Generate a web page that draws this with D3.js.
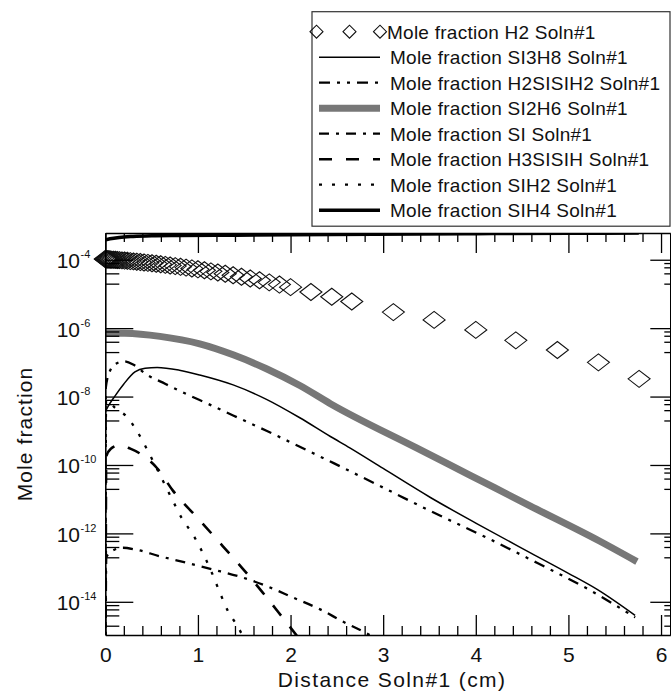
<!DOCTYPE html>
<html><head><meta charset="utf-8">
<script src="https://cdn.jsdelivr.net/npm/d3@7"></script>
<style>
body{margin:0;background:#fff}
svg{display:block}
text{font-family:"Liberation Sans",Arial,Helvetica,sans-serif;fill:#111}
</style>
</head><body>
<svg id="c" width="671" height="692"></svg>
<script>
// ---------------- DATA ----------------
const legendNames = [
  "Mole fraction H2 Soln#1",
  "Mole fraction SI3H8 Soln#1",
  "Mole fraction H2SISIH2 Soln#1",
  "Mole fraction SI2H6 Soln#1",
  "Mole fraction SI Soln#1",
  "Mole fraction H3SISIH Soln#1",
  "Mole fraction SIH2 Soln#1",
  "Mole fraction SIH4 Soln#1"
];
const xTickValues = [0, 1, 2, 3, 4, 5, 6];
const yTickValues = [1e-14, 1e-12, 1e-10, 1e-8, 1e-6, 1e-4];
const yTickExponents = ["-14", "-12", "-10", "-8", "-6", "-4"];
const xTitle = "Distance Soln#1 (cm)";
const yTitle = "Mole fraction";

// H2 (markers on solution mesh)
const h2X = [0, 0.004, 0.01, 0.018, 0.028, 0.04, 0.054, 0.07, 0.088, 0.108, 0.13, 0.154, 0.18, 0.208, 0.238, 0.27, 0.304, 0.34, 0.378, 0.418, 0.46, 0.504, 0.55, 0.598, 0.648, 0.7, 0.755, 0.812, 0.872, 0.935, 1.0, 1.07, 1.14, 1.215, 1.295, 1.38, 1.47, 1.565, 1.665, 1.77, 1.88, 2.0, 2.22, 2.445, 2.661, 3.11, 3.55, 4.0, 4.432, 4.881, 5.324, 5.763];
const h2Y = [1.05e-4, 1.04e-4, 1.04e-4, 1.04e-4, 1.035e-4, 1.03e-4, 1.02e-4, 1.01e-4, 1.005e-4, 9.95e-5, 9.84e-5, 9.72e-5, 9.6e-5, 9.46e-5, 9.31e-5, 9.14e-5, 8.95e-5, 8.77e-5, 8.55e-5, 8.34e-5, 8.11e-5, 7.87e-5, 7.62e-5, 7.36e-5, 7.1e-5, 6.81e-5, 6.52e-5, 6.21e-5, 5.9e-5, 5.57e-5, 5.25e-5, 4.91e-5, 4.57e-5, 4.24e-5, 3.88e-5, 3.53e-5, 3.18e-5, 2.84e-5, 2.51e-5, 2.18e-5, 1.88e-5, 1.58e-5, 1.14e-5, 8.3e-6, 6.0e-6, 2.95e-6, 1.74e-6, 8.9e-7, 4.4e-7, 2.3e-7, 1.0e-7, 3.3e-8];

const si3h8X = [0, 0.03, 0.1, 0.2, 0.32, 0.43, 0.56, 0.8, 1.02, 1.38, 1.74, 2.1, 2.43, 2.64, 3.0, 3.51, 4.0, 4.59, 5.0, 5.31, 5.72];
const si3h8Y = [3.55e-9, 5.13e-9, 1.0e-8, 2.34e-8, 5.25e-8, 6.76e-8, 7.08e-8, 5.89e-8, 4.27e-8, 2.19e-8, 8.3e-9, 2.4e-9, 6.8e-10, 3.16e-10, 7.9e-11, 1.12e-11, 2.0e-12, 2.7e-13, 6.8e-14, 2.3e-14, 4.0e-15];

const h2sisih2X = [0, 0.005, 0.05, 0.12, 0.2, 0.3, 0.447, 0.65, 0.879, 1.1, 1.38, 1.74, 2.1, 2.46, 2.97, 3.51, 4.16, 4.66, 5.23, 5.72];
const h2sisih2Y = [1e-20, 1.78e-8, 5.6e-8, 9.3e-8, 1.07e-7, 8.7e-8, 4.4e-8, 2.34e-8, 1.17e-8, 6.3e-9, 2.8e-9, 1.0e-9, 3.4e-10, 1.15e-10, 2.4e-11, 4.5e-12, 6.6e-13, 1.38e-13, 2.2e-14, 3.5e-15];

const si2h6X = [0, 0.21, 0.59, 1.02, 1.38, 1.74, 2.10, 2.43, 3.36, 3.94, 4.59, 5.34, 5.74];
const si2h6Y = [7.2e-7, 7.1e-7, 5.75e-7, 3.47e-7, 1.66e-7, 6.5e-8, 2.1e-8, 6.2e-9, 3.16e-10, 5.0e-11, 6.3e-12, 5.9e-13, 1.5e-13];

const siX = [0, 0.01, 0.08, 0.19, 0.32, 0.59, 0.88, 1.17, 1.455, 1.74, 2.03, 2.32, 2.57, 2.82, 3.0];
const siY = [1e-20, 2.0e-13, 3.16e-13, 3.8e-13, 3.4e-13, 2.14e-13, 1.38e-13, 8.7e-14, 5.4e-14, 2.9e-14, 1.32e-14, 6.0e-15, 2.6e-15, 1.2e-15, 6.3e-16];

const h3sisihX = [0, 0.01, 0.06, 0.15, 0.27, 0.37, 0.555, 0.73, 1.02, 1.27, 1.49, 1.70, 1.92, 2.1];
const h3sisihY = [1e-20, 1.78e-10, 3.0e-10, 3.8e-10, 3.0e-10, 2.2e-10, 8.3e-11, 1.78e-11, 2.4e-12, 4.2e-13, 8.9e-14, 1.86e-14, 3.3e-15, 7.9e-16];

const sih2X = [0, 0.008, 0.105, 0.23, 0.34, 0.48, 0.61, 0.73, 0.825, 0.95, 1.02, 1.15, 1.24, 1.33, 1.42, 1.54];
const sih2Y = [1e-20, 7.9e-9, 4.7e-9, 2.6e-9, 1.0e-9, 2.0e-10, 4.0e-11, 8.9e-12, 2.8e-12, 8.9e-13, 4.0e-13, 7.1e-14, 1.78e-14, 5.0e-15, 2.1e-15, 5.0e-16];

const sih4X = [0, 0.05, 0.15, 0.3, 0.5, 0.8, 1.2, 2.0, 2.9, 4.0, 5.0, 5.76];
const sih4Y = [3.8e-4, 4.1e-4, 4.5e-4, 4.8e-4, 5.0e-4, 5.1e-4, 5.2e-4, 5.35e-4, 5.6e-4, 5.8e-4, 5.9e-4, 6.0e-4];

// ---------------- STYLES ----------------
const lineStyles = {
  si3h8:    {color:"#000", width:1.5, dash:null},
  h2sisih2: {color:"#000", width:2.3, dash:"11,7,3,7,3,7"},
  si2h6:    {color:"#777", width:7,   dash:null},
  si:       {color:"#000", width:2.3, dash:"10,7,3,7"},
  h3sisih:  {color:"#000", width:2.6, dash:"13,14"},
  sih2:     {color:"#000", width:2.3, dash:"3,10"},
  sih4:     {color:"#000", width:3.5, dash:null}
};

// ---------------- CHART ----------------
const svg = d3.select("#c");
const L = 105.3, R = 670.3, T = 233, B = 635;
const x = d3.scaleLinear().domain([0, 6.1]).range([L, R]);
const y = d3.scaleLog().domain([1.07e-15, 6.05e-4]).range([B, T]);
const FONT = "Liberation Sans, Arial, Helvetica, sans-serif";

svg.append("defs").append("clipPath").attr("id", "clip")
  .append("rect").attr("x", L).attr("y", T).attr("width", R - L).attr("height", B - T);

const zip = (xs, ys) => xs.map((v, i) => [v, ys[i]]);
const line = d3.line().x(d => x(d[0])).y(d => y(d[1])).curve(d3.curveMonotoneX);

const plotted = [
  ["si2h6", si2h6X, si2h6Y],
  ["sih4", sih4X, sih4Y],
  ["si3h8", si3h8X, si3h8Y],
  ["h2sisih2", h2sisih2X, h2sisih2Y],
  ["si", siX, siY],
  ["h3sisih", h3sisihX, h3sisihY],
  ["sih2", sih2X, sih2Y]
];
const gLines = svg.append("g").attr("clip-path", "url(#clip)");
plotted.forEach(([key, xs, ys]) => {
  const st = lineStyles[key];
  gLines.append("path").datum(zip(xs, ys))
    .attr("d", line).attr("fill", "none")
    .attr("stroke", st.color).attr("stroke-width", st.width)
    .attr("stroke-dasharray", st.dash).attr("stroke-linejoin", "round");
});

// diamonds for H2
function diamond(cx, cy, hw, hh) {
  return `M${cx - hw},${cy}L${cx},${cy - hh}L${cx + hw},${cy}L${cx},${cy + hh}Z`;
}
svg.append("g").selectAll("path").data(zip(h2X, h2Y)).join("path")
  .attr("d", d => diamond(x(d[0]), y(d[1]), 11, 8.5))
  .attr("fill", "none").attr("stroke", "#111").attr("stroke-width", 1.1);

// axes
const xMinor = d3.range(1, 31).filter(i => i % 5 !== 0).map(i => i / 5);
const yMinor = [];
[-15, -13, -11, -9, -7, -5].forEach(e => [2, 4, 6, 8].forEach(m => yMinor.push(m * Math.pow(10, e))));

function styleAxis(g, keepDomain) {
  if (!keepDomain) g.select("path.domain").remove();
  else g.select("path.domain").attr("stroke", "#000").attr("stroke-width", 1.6);
  g.selectAll(".tick line").attr("stroke", "#000").attr("stroke-width", 1.3);
}
// bottom
const gb = svg.append("g").attr("transform", `translate(0,${B})`)
  .call(d3.axisBottom(x).tickValues(xTickValues).tickSize(-20).tickSizeOuter(0).tickPadding(12).tickFormat(d3.format("d")));
gb.attr("font-size", 21).attr("font-family", FONT);
gb.selectAll("text").attr("fill", "#111");
styleAxis(gb, true);
svg.append("g").attr("transform", `translate(0,${B})`)
  .call(d3.axisBottom(x).tickValues(xMinor).tickSize(-9).tickFormat(""))
  .call(g => styleAxis(g, false));
// top
svg.append("g").attr("transform", `translate(0,${T})`)
  .call(d3.axisTop(x).tickValues(xTickValues).tickSize(-20).tickSizeOuter(0).tickFormat(""))
  .call(g => styleAxis(g, true));
svg.append("g").attr("transform", `translate(0,${T})`)
  .call(d3.axisTop(x).tickValues(xMinor).tickSize(-9).tickFormat(""))
  .call(g => styleAxis(g, false));
// left
svg.append("g").attr("transform", `translate(${L},0)`)
  .call(d3.axisLeft(y).tickValues(yTickValues).tickSize(-28).tickSizeOuter(0).tickFormat(""))
  .call(g => styleAxis(g, true));
svg.append("g").attr("transform", `translate(${L},0)`)
  .call(d3.axisLeft(y).tickValues(yMinor).tickSize(-14).tickFormat(""))
  .call(g => styleAxis(g, false));
// right
svg.append("g").attr("transform", `translate(${R},0)`)
  .call(d3.axisRight(y).tickValues(yTickValues).tickSize(-20).tickSizeOuter(0).tickFormat(""))
  .call(g => styleAxis(g, true));
svg.append("g").attr("transform", `translate(${R},0)`)
  .call(d3.axisRight(y).tickValues(yMinor).tickSize(-6).tickFormat(""))
  .call(g => styleAxis(g, false));

// y tick labels 10^n
const gyl = svg.append("g").attr("font-family", FONT);
yTickValues.forEach((v, i) => {
  gyl.append("text").attr("x", 80).attr("y", y(v) + 8.5).attr("text-anchor", "end")
    .attr("font-size", 21).text("10");
  gyl.append("text").attr("x", 80.5).attr("y", y(v) - 1.5).attr("text-anchor", "start")
    .attr("font-size", 11).attr("fill", "#333").text(yTickExponents[i]);
});

// titles
svg.append("text").attr("x", 392).attr("y", 686.5).attr("text-anchor", "middle")
  .attr("font-size", 21).attr("letter-spacing", 1.4).attr("font-family", FONT).text(xTitle);
svg.append("text").attr("transform", "translate(31.5,434) rotate(-90)").attr("text-anchor", "middle")
  .attr("font-size", 21).attr("letter-spacing", 1.1).attr("font-family", FONT).text(yTitle);

// legend
const lg = svg.append("g");
lg.append("rect").attr("x", 312).attr("y", 11.7).attr("width", 358).attr("height", 214.5)
  .attr("fill", "#fff").attr("stroke", "#333").attr("stroke-width", 1.2);
const legendKeys = ["h2", "si3h8", "h2sisih2", "si2h6", "si", "h3sisih", "sih2", "sih4"];
legendKeys.forEach((k, i) => {
  const cy = 31.7 + i * 25.5;
  if (k === "h2") {
    [316.5, 349.5, 380].forEach(cx => lg.append("path").attr("d", diamond(cx, cy, 6.5, 6.5))
      .attr("fill", "none").attr("stroke", "#111").attr("stroke-width", 1.1));
  } else {
    const st = lineStyles[k];
    lg.append("line").attr("x1", 319).attr("x2", 380).attr("y1", cy).attr("y2", cy)
      .attr("stroke", st.color).attr("stroke-width", st.width).attr("stroke-dasharray", st.dash);
  }
  lg.append("text").attr("x", k === "h2" ? 387 : 390).attr("y", cy + 6.8).attr("font-size", 19)
    .attr("letter-spacing", 0.25).attr("font-family", FONT).text(legendNames[i]);
});
</script>
</body></html>
